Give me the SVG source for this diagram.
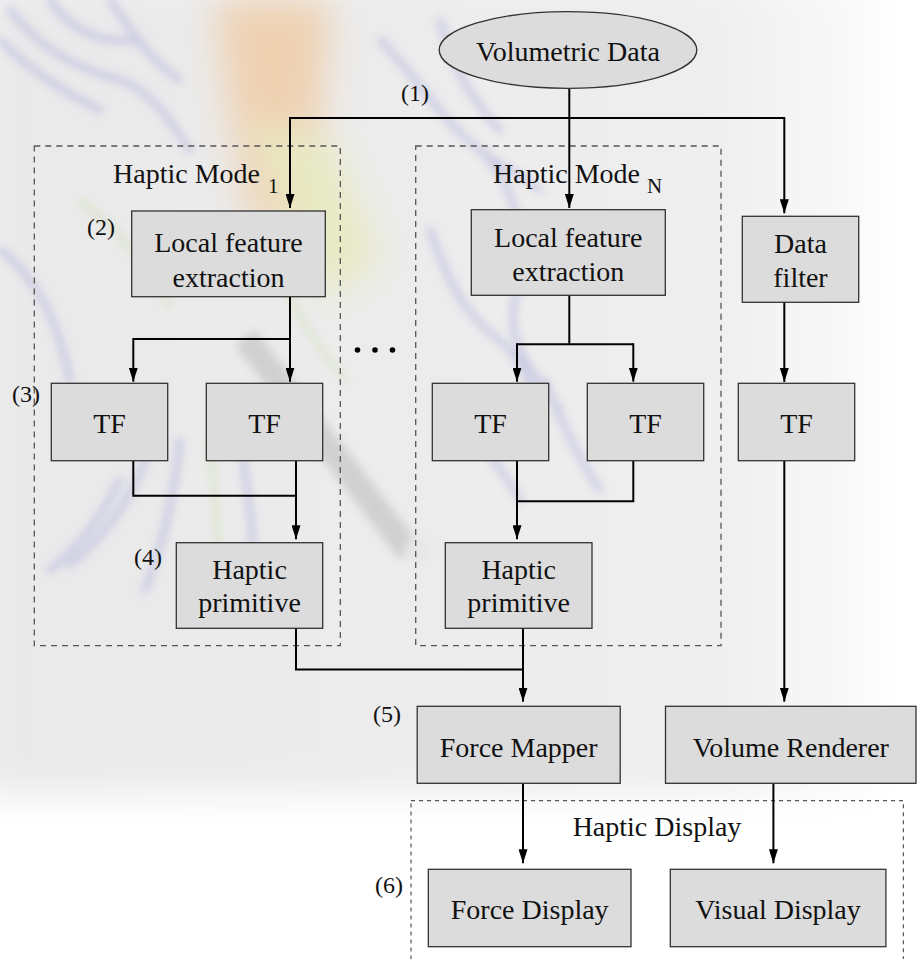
<svg xmlns="http://www.w3.org/2000/svg" width="919" height="959" viewBox="0 0 919 959">
<defs>
<marker id="arr" viewBox="0 0 14 9" refX="14" refY="4.5" markerWidth="14" markerHeight="9" markerUnits="userSpaceOnUse" orient="auto">
<path d="M0,0 L14,4.5 L0,9 z" fill="#000"/>
</marker>
<linearGradient id="bgh" x1="0" y1="0" x2="1" y2="0">
<stop offset="0" stop-color="#e9e9ea"/>
<stop offset="0.8" stop-color="#eeeeee"/>
<stop offset="1" stop-color="#fbfbfb"/>
</linearGradient>
<filter id="blur" x="-20%" y="-20%" width="140%" height="140%"><feGaussianBlur stdDeviation="4"/></filter>
<filter id="blur2" x="-20%" y="-20%" width="140%" height="140%"><feGaussianBlur stdDeviation="18"/></filter>
<style>
.box{fill:#dcdcdc;stroke:#333;stroke-width:1.3}
.t{font-family:"Liberation Serif","Times New Roman",serif;font-size:28px;fill:#111;text-anchor:middle}
.lab{font-family:"Liberation Serif","Times New Roman",serif;font-size:24px;fill:#111}
.sub{font-family:"Liberation Serif","Times New Roman",serif;font-size:21px;fill:#111}
.dash{fill:none;stroke:#555;stroke-width:1.3;stroke-dasharray:6 5}
.dash2{fill:none;stroke:#555;stroke-width:1.2;stroke-dasharray:4 4}
.c{fill:none;stroke:#000;stroke-width:2}
.ca{fill:none;stroke:#000;stroke-width:2;marker-end:url(#arr)}
.fb{fill:none;stroke:#8f8fd2;stroke-width:7;stroke-linecap:round}
.fg{fill:none;stroke:#c5dc98;stroke-width:6;stroke-linecap:round}
</style>
</defs>
<g id="background">
<rect x="0" y="0" width="919" height="959" fill="#ffffff"/>
<rect x="-20" y="-20" width="900" height="815" fill="url(#bgh)" filter="url(#blur2)"/>
<g filter="url(#blur2)" opacity="0.5">
<path d="M215,0 L330,0 L320,140 L290,230 L250,220 L230,120 Z" fill="#f3b878"/>
<path d="M250,120 L330,140 L380,260 L320,300 Z" fill="#e4e89a"/>
</g>
<g filter="url(#blur)" opacity="0.35">
<path class="fb" d="M10,10 C40,50 80,70 120,80 C150,90 170,120 190,150"/>
<path class="fb" d="M50,0 C70,30 100,45 140,40"/>
<path class="fb" d="M0,40 C30,70 60,90 100,110"/>
<path class="fb" d="M110,0 C130,30 150,60 180,80"/>
<path class="fb" d="M380,40 C420,80 440,120 480,150 C500,165 520,175 540,190"/>
<path class="fb" d="M440,20 C450,60 470,100 500,130"/>
<path class="fb" d="M480,150 C520,190 530,250 515,300 C505,340 530,370 560,410"/>
<path class="fb" d="M430,230 C450,290 470,320 505,345 C520,360 530,380 540,420"/>
<path class="fb" d="M545,380 C560,420 580,460 600,490"/>
<path class="fb" d="M470,420 C490,460 510,480 520,500"/>
<path class="fb" d="M150,440 C140,490 110,530 70,565"/>
<path class="fb" d="M180,440 C175,490 165,540 145,590"/>
<path class="fb" d="M240,430 C245,480 255,530 255,595"/>
<path class="fb" d="M120,480 C100,520 80,545 50,570"/>
<path class="fg" d="M210,440 C215,490 220,540 218,600"/>
<path class="fg" d="M280,280 C300,320 320,350 345,380"/>
<path class="fg" d="M80,200 C120,230 150,270 170,305"/>
<path class="fb" d="M0,250 C40,280 60,330 70,380"/>
</g>
<g opacity="0.4" filter="url(#blur)">
<path d="M255,330 L420,545 L400,560 L235,345 Z" fill="#a8a8a8"/>
<circle cx="418" cy="550" r="13" fill="#e0e0e0"/>
</g>
</g>
<g id="groups">
<rect id="hapticMode1" class="dash" x="34.3" y="146" width="306" height="499.7"/>
<rect id="hapticModeN" class="dash" x="415.7" y="146" width="305.3" height="499.7"/>
<rect id="hapticDisplayGroup" class="dash2" x="411" y="800.7" width="492.4" height="175"/>
<text class="t" x="113" y="183" style="text-anchor:start">Haptic Mode</text>
<text class="sub" x="268" y="193">1</text>
<text class="t" x="493" y="183" style="text-anchor:start">Haptic Mode</text>
<text class="sub" x="647" y="193">N</text>
<text class="t" x="657" y="836">Haptic Display</text>
</g>
<g id="connectors">
<path class="ca" d="M569.3,88.5 L569.3,208"/>
<path class="c" d="M290,118 L784.3,118"/>
<path class="ca" d="M290,117 L290,208"/>
<path class="ca" d="M784.3,117 L784.3,213.3"/>
<path class="c" d="M290,296.7 L290,339 L133.3,339"/>
<path class="ca" d="M133.3,338 L133.3,381.7"/>
<path class="ca" d="M290,338 L290,381.7"/>
<path class="c" d="M569.3,295.3 L569.3,344.3"/>
<path class="c" d="M517,344.3 L633.3,344.3"/>
<path class="ca" d="M517,343.3 L517,381.7"/>
<path class="ca" d="M633.3,343.3 L633.3,381.7"/>
<path class="ca" d="M784.3,302.3 L784.3,382"/>
<path class="c" d="M133.3,460.7 L133.3,495.7 L296,495.7"/>
<path class="ca" d="M296,460.7 L296,539.3"/>
<path class="c" d="M633.3,460.7 L633.3,501.3 L517,501.3"/>
<path class="ca" d="M517,460.7 L517,539.3"/>
<path class="ca" d="M784.3,460.7 L784.3,701.7"/>
<path class="c" d="M296,628.3 L296,669.5 L523,669.5"/>
<path class="ca" d="M523,628.3 L523,701.7"/>
<path class="ca" d="M523,783.3 L523,863.3"/>
<path class="ca" d="M773.4,783.3 L773.4,863.3"/>
</g>
<g id="volumetricData">
<ellipse cx="568" cy="50" rx="128.8" ry="38.3" class="box"/>
<text class="t" x="568" y="61">Volumetric Data</text>
</g>
<g id="lfe1">
<rect class="box" x="131.7" y="211" width="193.6" height="85.7"/>
<text class="t" x="228.5" y="252">Local feature</text>
<text class="t" x="228.5" y="287">extraction</text>
</g>
<g id="lfeN">
<rect class="box" x="471.3" y="209.7" width="194" height="85.6"/>
<text class="t" x="568.3" y="247">Local feature</text>
<text class="t" x="568.3" y="281">extraction</text>
</g>
<g id="dataFilter">
<rect class="box" x="742.3" y="216.3" width="116.4" height="86"/>
<text class="t" x="800.5" y="253">Data</text>
<text class="t" x="800.5" y="287">filter</text>
</g>
<g id="tf1a"><rect class="box" x="51.3" y="383.3" width="116.4" height="77.4"/><text class="t" x="109.5" y="433">TF</text></g>
<g id="tf1b"><rect class="box" x="206.3" y="383.3" width="116.4" height="77.4"/><text class="t" x="264.5" y="433">TF</text></g>
<g id="tfNa"><rect class="box" x="432.3" y="383.3" width="116.4" height="77.4"/><text class="t" x="490.5" y="433">TF</text></g>
<g id="tfNb"><rect class="box" x="587.3" y="383.3" width="116.4" height="77.4"/><text class="t" x="645.5" y="433">TF</text></g>
<g id="tfR"><rect class="box" x="738.3" y="383.3" width="116.4" height="77.4"/><text class="t" x="796.5" y="433">TF</text></g>
<g id="hp1">
<rect class="box" x="176.3" y="542.7" width="146.4" height="85.6"/>
<text class="t" x="249.5" y="578.5">Haptic</text>
<text class="t" x="249.5" y="612">primitive</text>
</g>
<g id="hpN">
<rect class="box" x="445.3" y="542.7" width="146.7" height="85.6"/>
<text class="t" x="518.7" y="578.5">Haptic</text>
<text class="t" x="518.7" y="612">primitive</text>
</g>
<g id="forceMapper">
<rect class="box" x="417.2" y="706.3" width="203" height="77"/>
<text class="t" x="518.7" y="756.7">Force Mapper</text>
</g>
<g id="volumeRenderer">
<rect class="box" x="665.5" y="706.3" width="250.5" height="77"/>
<text class="t" x="790.8" y="756.7">Volume Renderer</text>
</g>
<g id="forceDisplay">
<rect class="box" x="428.3" y="869.3" width="202.7" height="77.4"/>
<text class="t" x="529.7" y="919.3">Force Display</text>
</g>
<g id="visualDisplay">
<rect class="box" x="670.3" y="869.3" width="215.6" height="77.4"/>
<text class="t" x="778" y="919.3">Visual Display</text>
</g>
<g id="labels">
<text class="lab" x="401" y="101">(1)</text>
<text class="lab" x="87" y="235">(2)</text>
<text class="lab" x="12" y="402">(3)</text>
<text class="lab" x="134" y="565">(4)</text>
<text class="lab" x="373" y="722">(5)</text>
<text class="lab" x="375" y="893">(6)</text>
<circle cx="357.5" cy="350" r="2.8" fill="#000"/>
<circle cx="375" cy="350" r="2.8" fill="#000"/>
<circle cx="392.5" cy="350" r="2.8" fill="#000"/>
</g>
</svg>
